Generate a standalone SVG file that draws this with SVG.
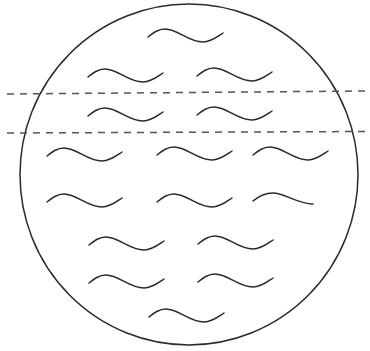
<svg xmlns="http://www.w3.org/2000/svg" width="370" height="351" viewBox="0 0 370 351">
<style>
.s{fill:none;stroke:#2a2a2a;stroke-width:1.5;stroke-linecap:round}
.d{fill:none;stroke:#555;stroke-width:1.5;stroke-dasharray:7 6}
</style>
<defs>
<path id="w" class="s" d="M0,0 C5,-4 10,-8 17,-8 C30,-8 40,5 55,5 C63,5 69,0 75,-4"/>
<path id="ws" class="s" d="M0,0 C6,-5 12,-8 20,-8 C32,-8 44,3 60,3"/>
</defs>
<rect width="370" height="351" fill="#fff"/>
<ellipse class="s" cx="189" cy="174.5" rx="169" ry="170.5"/>
<g id="connectors">
<path class="d" d="M7,94 L366,91"/>
<path class="d" d="M7,133 L369,131.5"/>
</g>
<g id="waves">
<use href="#w" x="148" y="37"/>
<use href="#w" x="88" y="77"/>
<use href="#w" x="197" y="76"/>
<use href="#w" x="88" y="116"/>
<use href="#w" x="197" y="115"/>
<use href="#w" x="47" y="156"/>
<use href="#w" x="157" y="155"/>
<use href="#w" x="253" y="155"/>
<use href="#w" x="47" y="202"/>
<use href="#w" x="157" y="202"/>
<use href="#ws" x="253" y="201"/>
<use href="#w" x="89" y="245"/>
<use href="#w" x="198" y="244"/>
<use href="#w" x="89" y="283"/>
<use href="#w" x="198" y="282"/>
<use href="#w" x="149" y="317"/>
</g>
</svg>
